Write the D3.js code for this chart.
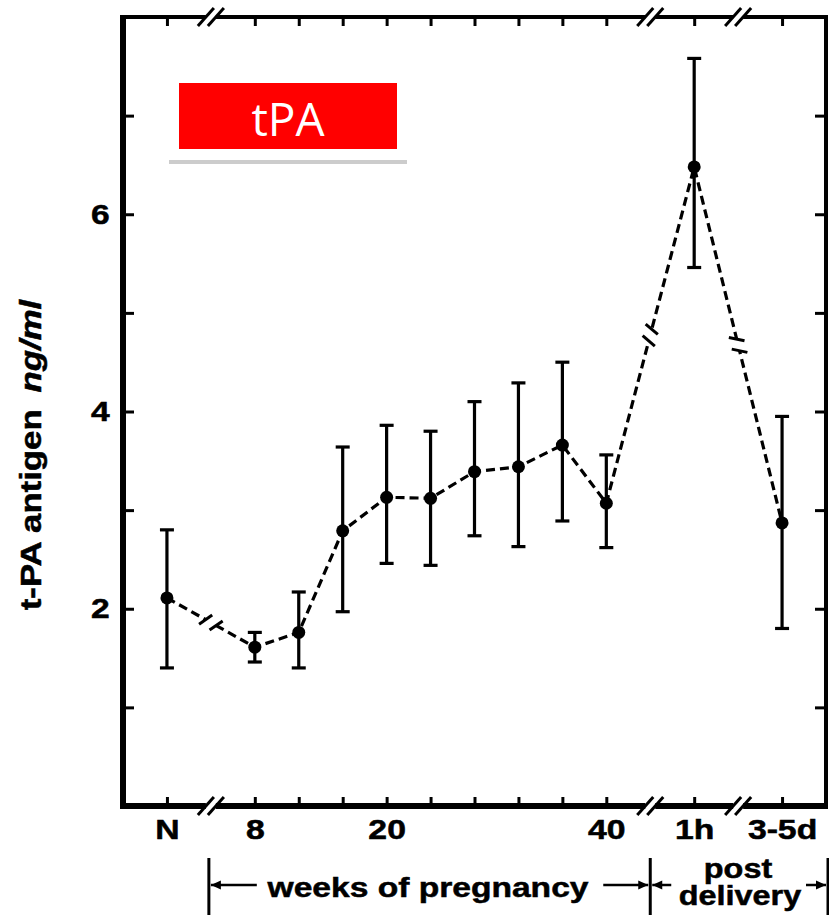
<!DOCTYPE html>
<html>
<head>
<meta charset="utf-8">
<script src="https://cdn.jsdelivr.net/npm/d3@7"></script>
<style>
  body { margin: 0; background: #fff; }
  svg text { font-family: "Liberation Sans", Arial, Helvetica, sans-serif; font-weight: bold; fill: #000; stroke: #000; stroke-width: 0.5px; }
</style>
</head>
<body>
<div id="chart"></div>
<script>
/* CONSTANTS AND GLOBALS */
const width = 829,
  height = 915,
  margin = { top: 17, bottom: 109, left: 123, right: 3 };

/* DATA */
// x position in "weeks"; N, 1h and 3-5d sit on the broken axis parts
const positions = [0, 8, 12, 16, 20, 24, 28, 32, 36, 40, 48, 56];
const means = [2.11, 1.61, 1.76, 2.79, 3.13, 3.12, 3.39, 3.44, 3.66, 3.07, 6.48, 2.87];
const upper = [2.8, 1.76, 2.17, 3.64, 3.86, 3.8, 4.1, 4.29, 4.5, 3.56, 7.58, 3.95];
const lower = [1.4, 1.46, 1.4, 1.97, 2.46, 2.44, 2.74, 2.63, 2.89, 2.62, 5.46, 1.8];

const xTicks = [0, 8, 12, 16, 20, 24, 28, 32, 36, 40, 48, 56];
const xTickLabels = ["N", "8", "", "", "20", "", "", "", "", "40", "1h", "3-5d"];
const axisBreaks = [4, 44, 52];
const yTicks = [1, 2, 3, 4, 5, 6, 7];
const yTickLabels = [2, 4, 6];

/* SCALES */
const xScale = d3.scaleLinear().domain([-4, 60]).range([margin.left, width - margin.right]);
const yScale = d3.scaleLinear().domain([0, 8]).range([height - margin.bottom, margin.top]);

const svg = d3.select("#chart").append("svg")
  .attr("width", width)
  .attr("height", height);

const x0 = xScale.range()[0], x1 = xScale.range()[1];
const yb = yScale(0), yt = yScale(8);

// + AXES (ticks inside the frame)
const bottomAxis = svg.append("g")
  .attr("transform", `translate(0,${yb})`)
  .call(d3.axisBottom(xScale).tickValues(xTicks).tickSize(-9).tickPadding(14)
    .tickFormat((d, i) => xTickLabels[i]));

const topAxis = svg.append("g")
  .attr("transform", `translate(0,${yt})`)
  .call(d3.axisTop(xScale).tickValues(xTicks).tickSize(-9).tickFormat(""));

const leftAxis = svg.append("g")
  .attr("transform", `translate(${x0},0)`)
  .call(d3.axisLeft(yScale).tickValues(yTicks).tickSize(-11).tickPadding(11)
    .tickFormat(d => yTickLabels.includes(d) ? d : ""));

const rightAxis = svg.append("g")
  .attr("transform", `translate(${x1},0)`)
  .call(d3.axisRight(yScale).tickValues(yTicks).tickSize(-11).tickFormat(""));

[bottomAxis, topAxis, leftAxis, rightAxis].forEach(g => {
  g.select(".domain").remove();
  g.selectAll(".tick line").attr("stroke", "#000").attr("stroke-width", 3);
});

bottomAxis.selectAll(".tick text")
  .attr("font-size", 27)
  .attr("transform", "scale(1.25,1)");

leftAxis.selectAll(".tick text")
  .attr("font-size", 28)
  .attr("transform", "scale(1.2,1)");

// + FRAME with breaks on top and bottom
const gap = 5;
const cuts = [x0].concat(axisBreaks.map(xScale), [x1]);
[[yb, 6], [yt, 4]].forEach(([yy, sw]) => {
  for (let i = 0; i < cuts.length - 1; i++) {
    svg.append("line")
      .attr("x1", i === 0 ? cuts[i] - 3 : cuts[i] + gap)
      .attr("x2", i === cuts.length - 2 ? cuts[i + 1] + 2 : cuts[i + 1] - gap)
      .attr("y1", yy).attr("y2", yy)
      .attr("stroke", "#000").attr("stroke-width", sw);
  }
  axisBreaks.forEach(b => {
    [-gap, gap].forEach(o => {
      const cx = xScale(b) + o;
      svg.append("line")
        .attr("x1", cx - 8).attr("y1", yy + 9)
        .attr("x2", cx + 8).attr("y2", yy - 9)
        .attr("stroke", "#000").attr("stroke-width", 3);
    });
  });
});

svg.append("line")
  .attr("x1", x0).attr("x2", x0).attr("y1", yt - 2).attr("y2", yb + 3)
  .attr("stroke", "#000").attr("stroke-width", 6);
svg.append("line")
  .attr("x1", x1).attr("x2", x1).attr("y1", yt - 2).attr("y2", yb + 3)
  .attr("stroke", "#000").attr("stroke-width", 4);

/* DATA LINE */
const points = positions.map((p, i) => [xScale(p), yScale(means[i])]);

svg.append("path")
  .attr("d", d3.line()(points))
  .attr("fill", "none")
  .attr("stroke", "#000")
  .attr("stroke-width", 3.2)
  .attr("stroke-dasharray", "9,5");

// break marks on the line where it crosses an axis break
axisBreaks.forEach(b => {
  const i = positions.findIndex((p, k) => p < b && positions[k + 1] > b);
  const a = points[i], c = points[i + 1];
  const t = (b - positions[i]) / (positions[i + 1] - positions[i]);
  const px = a[0] + t * (c[0] - a[0]), py = a[1] + t * (c[1] - a[1]);
  const len = Math.hypot(c[0] - a[0], c[1] - a[1]);
  const ux = (c[0] - a[0]) / len, uy = (c[1] - a[1]) / len;
  // mark direction: normal turned a bit
  const ang = Math.atan2(uy, ux) + Math.PI / 2 + 0.45;
  const mx = Math.cos(ang), my = Math.sin(ang);
  svg.append("line")
    .attr("x1", px - ux * 6).attr("y1", py - uy * 6)
    .attr("x2", px + ux * 6).attr("y2", py + uy * 6)
    .attr("stroke", "#fff").attr("stroke-width", 8);
  [-6, 6].forEach(o => {
    const qx = px + ux * o, qy = py + uy * o;
    svg.append("line")
      .attr("x1", qx - mx * 8).attr("y1", qy - my * 8)
      .attr("x2", qx + mx * 8).attr("y2", qy + my * 8)
      .attr("stroke", "#000").attr("stroke-width", 3);
  });
});

/* ERROR BARS AND POINTS */
const bars = svg.append("g").selectAll("g")
  .data(positions)
  .join("g")
  .attr("transform", d => `translate(${xScale(d)},0)`);

bars.append("line")
  .attr("y1", (d, i) => yScale(lower[i]))
  .attr("y2", (d, i) => yScale(upper[i]))
  .attr("stroke", "#000").attr("stroke-width", 3.2);

bars.selectAll("line.cap")
  .data((d, i) => [upper[i], lower[i]])
  .join("line")
  .attr("class", "cap")
  .attr("x1", -7).attr("x2", 7)
  .attr("y1", d => yScale(d)).attr("y2", d => yScale(d))
  .attr("stroke", "#000").attr("stroke-width", 3.2);

bars.append("circle")
  .attr("cy", (d, i) => yScale(means[i]))
  .attr("r", 6.5)
  .attr("fill", "#000");

/* Y TITLE */
const yTitle = svg.append("g")
  .attr("transform", "translate(41,455) rotate(-90) scale(1.2,1)")
  .append("text")
  .attr("text-anchor", "middle")
  .attr("font-size", 29);
yTitle.append("tspan").text("t-PA antigen");
yTitle.append("tspan").attr("dx", 14).attr("font-style", "italic").text("ng/ml");

/* BOTTOM ANNOTATION */
const ay = 885;
const bx0 = xScale(axisBreaks[0]) - 2, bx1 = xScale(axisBreaks[1]), bx2 = width - 1;
[bx0, bx1, bx2].forEach(xx => {
  svg.append("line")
    .attr("x1", xx).attr("x2", xx).attr("y1", 858).attr("y2", height)
    .attr("stroke", "#000").attr("stroke-width", 3);
});

function arrow(from, to) {
  svg.append("line")
    .attr("x1", from).attr("x2", to).attr("y1", ay).attr("y2", ay)
    .attr("stroke", "#000").attr("stroke-width", 2.5);
  const dir = Math.sign(to - from);
  svg.append("path")
    .attr("d", `M${to},${ay} L${to - dir * 10},${ay - 4.5} L${to - dir * 10},${ay + 4.5} Z`)
    .attr("fill", "#000");
}
arrow(xScale(8) + 2, bx0 + 2);
arrow(bx1 - 47, bx1 - 2);
arrow(bx1 + 21, bx1 + 2);
arrow(bx2 - 22, bx2 - 2);

svg.append("text")
  .attr("transform", "translate(428,897) scale(1.2,1)")
  .attr("text-anchor", "middle")
  .attr("font-size", 28)
  .text("weeks of pregnancy");

svg.append("text")
  .attr("transform", "translate(738,878) scale(1.2,1)")
  .attr("text-anchor", "middle")
  .attr("font-size", 27)
  .text("post");

svg.append("text")
  .attr("transform", "translate(740,905) scale(1.2,1)")
  .attr("text-anchor", "middle")
  .attr("font-size", 27)
  .text("delivery");

/* tPA LABEL BOX */
svg.append("rect")
  .attr("x", 169).attr("y", 160).attr("width", 238).attr("height", 4)
  .attr("fill", "#cccccc");
svg.append("rect")
  .attr("x", 179).attr("y", 83).attr("width", 218).attr("height", 66)
  .attr("fill", "#ff0000");
svg.append("text")
  .attr("x", 288).attr("y", 136)
  .attr("text-anchor", "middle")
  .style("font-family", "'Open Sans', 'Noto Sans', sans-serif")
  .style("font-weight", "normal")
  .style("fill", "#fff")
  .style("stroke", "none")
  .attr("font-size", 46)
  .text("tPA");
</script>
</body>
</html>
